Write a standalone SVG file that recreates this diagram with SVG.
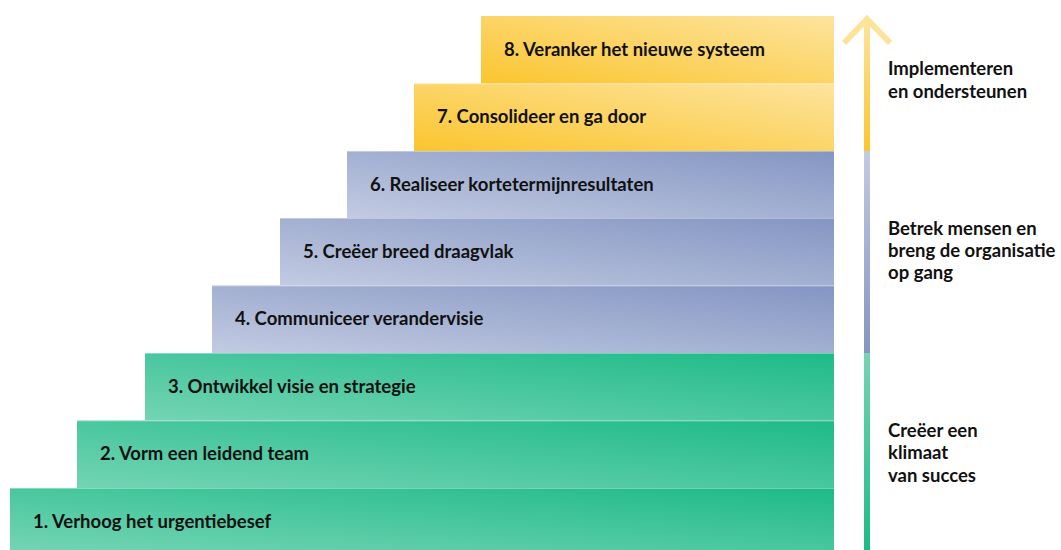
<svg xmlns="http://www.w3.org/2000/svg" width="1061" height="550" viewBox="0 0 1061 550">
  <style>
    .lbl { font-family: Lato, "Liberation Sans", sans-serif; font-weight: 700; font-size: 18.5px; fill: #111111; }
    .side { font-family: Lato, "Liberation Sans", sans-serif; font-weight: 700; font-size: 18.5px; fill: #111111; }
    .edge { stroke: #ffffff; stroke-opacity: 0.35; stroke-width: 1; }
  </style>
  <defs>
    <linearGradient id="gGreen" x1="0" y1="1" x2="1" y2="0">
      <stop offset="0" stop-color="#74d4b4"/>
      <stop offset="1" stop-color="#1dba87"/>
    </linearGradient>
    <linearGradient id="gBlue" x1="0" y1="1" x2="1" y2="0">
      <stop offset="0" stop-color="#c3cbe2"/>
      <stop offset="1" stop-color="#8395c2"/>
    </linearGradient>
    <linearGradient id="gYellow" x1="0" y1="1" x2="1" y2="0">
      <stop offset="0" stop-color="#fbc52f"/>
      <stop offset="1" stop-color="#fde49e"/>
    </linearGradient>
    <linearGradient id="lnYellow" x1="0" y1="0" x2="0" y2="1">
      <stop offset="0" stop-color="#fde49e"/>
      <stop offset="1" stop-color="#fbc52f"/>
    </linearGradient>
    <linearGradient id="lnBlue" x1="0" y1="0" x2="0" y2="1">
      <stop offset="0" stop-color="#c3cbe2"/>
      <stop offset="1" stop-color="#8395c2"/>
    </linearGradient>
    <linearGradient id="lnGreen" x1="0" y1="0" x2="0" y2="1">
      <stop offset="0" stop-color="#74d4b4"/>
      <stop offset="1" stop-color="#1dba87"/>
    </linearGradient>
  </defs>

  <!-- staircase steps, bottom to top -->
  <g id="step1">
    <rect x="10" y="488" width="824" height="62" fill="url(#gGreen)"/>
    <text class="lbl" x="33" y="528">1. Verhoog het urgentiebesef</text>
  </g>
  <g id="step2">
    <rect x="77" y="420.5" width="757" height="67.5" fill="url(#gGreen)"/>
    <text class="lbl" x="100" y="460">2. Vorm een leidend team</text>
  </g>
  <g id="step3">
    <rect x="145" y="353" width="689" height="67.5" fill="url(#gGreen)"/>
    <text class="lbl" x="168" y="393">3. Ontwikkel visie en strategie</text>
  </g>
  <g id="step4">
    <rect x="212" y="285.5" width="622" height="67.5" fill="url(#gBlue)"/>
    <text class="lbl" x="235" y="325">4. Communiceer verandervisie</text>
  </g>
  <g id="step5">
    <rect x="280" y="218" width="554" height="67.5" fill="url(#gBlue)"/>
    <text class="lbl" x="303" y="258">5. Creëer breed draagvlak</text>
  </g>
  <g id="step6">
    <rect x="347" y="151" width="487" height="67" fill="url(#gBlue)"/>
    <text class="lbl" x="370" y="191">6. Realiseer kortetermijnresultaten</text>
  </g>
  <g id="step7">
    <rect x="414" y="83.5" width="420" height="67.5" fill="url(#gYellow)"/>
    <text class="lbl" x="437" y="123">7. Consolideer en ga door</text>
  </g>
  <g id="step8">
    <rect x="481" y="16" width="353" height="67.5" fill="url(#gYellow)"/>
    <text class="lbl" x="504" y="56">8. Veranker het nieuwe systeem</text>
  </g>

  <!-- faint seams along the top edge of each step -->
  <g id="seams">
    <line class="edge" x1="10" y1="488.5" x2="834" y2="488.5"/>
    <line class="edge" x1="77" y1="421" x2="834" y2="421"/>
    <line class="edge" x1="145" y1="353.5" x2="834" y2="353.5"/>
    <line class="edge" x1="212" y1="286" x2="834" y2="286"/>
    <line class="edge" x1="280" y1="218.5" x2="834" y2="218.5"/>
    <line class="edge" x1="347" y1="151.5" x2="834" y2="151.5"/>
    <line class="edge" x1="414" y1="84" x2="834" y2="84"/>
  </g>

  <!-- phase arrow on the right -->
  <g id="connectors">
    <rect x="864" y="18" width="6" height="133" fill="url(#lnYellow)"/>
    <rect x="864" y="151" width="6" height="202" fill="url(#lnBlue)"/>
    <rect x="864" y="353" width="6" height="197" fill="url(#lnGreen)"/>
    <polyline points="844,43 867,19 890,43" fill="none" stroke="#fde39a" stroke-width="6" stroke-linejoin="miter"/>
  </g>

  <!-- phase captions -->
  <g id="phase-implement">
    <text class="side" x="888" y="75">Implementeren</text>
    <text class="side" x="888" y="98">en ondersteunen</text>
  </g>
  <g id="phase-engage">
    <text class="side" x="888" y="235">Betrek mensen en</text>
    <text class="side" x="888" y="257">breng de organisatie</text>
    <text class="side" x="888" y="279">op gang</text>
  </g>
  <g id="phase-climate">
    <text class="side" x="888" y="437">Creëer een</text>
    <text class="side" x="888" y="459">klimaat</text>
    <text class="side" x="888" y="482">van succes</text>
  </g>
</svg>
